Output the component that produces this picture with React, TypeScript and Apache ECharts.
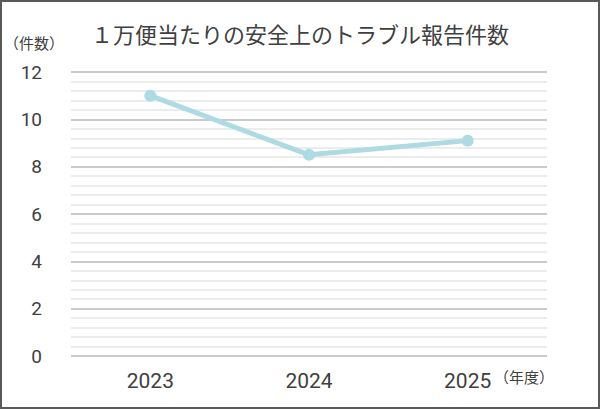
import React, { useEffect, useRef } from "react";
import * as echarts from "echarts";

const titleText = "１万便当たりの安全上のトラブル報告件数";
const yUnit = "（件数）";
const xUnit = "（年度）";
const years = ["2023", "2024", "2025"];
const reports = [11, 8.5, 9.1];

const NUM_FONT = "Roboto, sans-serif";

export default function App() {
  const ref = useRef<HTMLDivElement>(null);
  useEffect(() => {
    if (!ref.current) return;
    const chart = echarts.init(ref.current, null, { renderer: "svg" });
    chart.setOption({
      animation: false,
      backgroundColor: "#ffffff",
      title: {
        text: titleText,
        left: "center",
        top: 17,
        textStyle: {
          fontFamily: "Noto Sans CJK JP",
          fontSize: 22,
          fontWeight: "normal",
          color: "#404040",
        },
      },
      graphic: [
        {
          type: "rect",
          shape: { x: 1, y: 1, width: 598, height: 407 },
          style: { fill: "none", stroke: "#5a5a5a", lineWidth: 2 },
          silent: true,
        },
        {
          type: "text",
          left: 4,
          top: 35,
          style: {
            text: yUnit,
            fontFamily: "Noto Sans CJK JP",
            fontSize: 15,
            fill: "#404040",
          },
        },
        {
          type: "text",
          left: 494,
          top: 369,
          style: {
            text: xUnit,
            fontFamily: "Noto Sans CJK JP",
            fontSize: 15,
            fill: "#404040",
          },
        },
      ],
      grid: { left: 71, right: 53, top: 72, bottom: 53, containLabel: false },
      xAxis: {
        type: "category",
        data: years,
        boundaryGap: true,
        axisLine: { show: false },
        axisTick: { show: false },
        axisLabel: {
          margin: 14,
          fontFamily: NUM_FONT,
          fontSize: 21,
          color: "#404040",
        },
      },
      yAxis: {
        type: "value",
        min: 0,
        max: 12,
        interval: 2,
        axisLine: { show: false },
        axisTick: { show: false },
        axisLabel: {
          margin: 29,
          fontFamily: NUM_FONT,
          fontSize: 19,
          color: "#404040",
        },
        splitLine: { lineStyle: { color: "#cacaca", width: 2 } },
        minorTick: { show: false, splitNumber: 5 },
        minorSplitLine: { show: true, lineStyle: { color: "#ececec", width: 2 } },
      },
      series: [
        {
          type: "line",
          data: reports,
          symbol: "circle",
          symbolSize: 12,
          lineStyle: { color: "#aedbe3", width: 5 },
          itemStyle: { color: "#aedbe3" },
        },
      ],
    });
    return () => chart.dispose();
  }, []);
  return (
    <div
      ref={ref}
      style={{ position: "fixed", left: 0, top: 0, width: 600, height: 409 }}
    />
  );
}
